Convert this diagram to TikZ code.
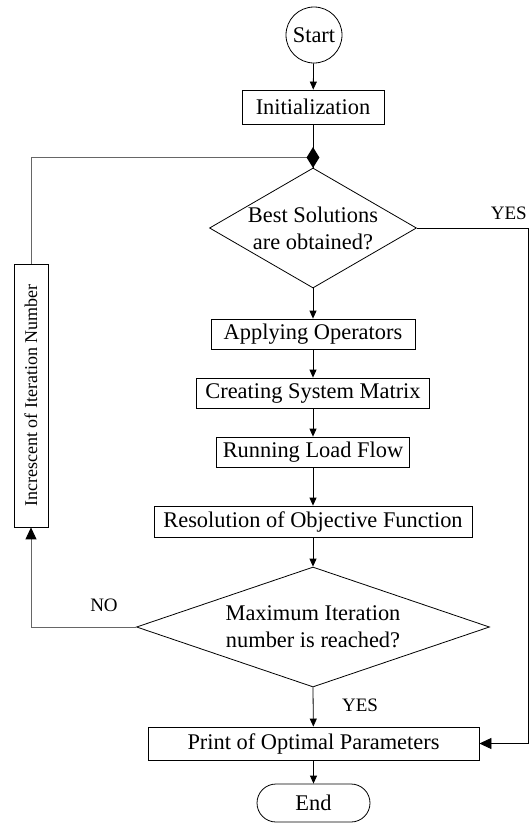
\documentclass[tikz,border=0pt]{standalone}
\usepackage{fontspec}
\setmainfont{Liberation Serif}
\usetikzlibrary{shapes.geometric,arrows.meta}
\begin{document}
\begin{tikzpicture}[x=1pt,y=-1pt,
  every node/.style={font=\fontsize{22.4}{27}\selectfont, inner sep=0pt},
  proc/.style={draw, line width=0.8pt, minimum height=30pt},
  decision/.style={draw, diamond, line width=0.8pt},
  flow/.style={line width=0.8pt, -{Triangle[length=8pt,width=7pt]}},
  bigflow/.style={line width=0.8pt, -{Triangle[length=12pt,width=11pt]}},
  loopline/.style={line width=0.9pt, draw=black!60},
  lbl/.style={font=\fontsize{19}{22}\selectfont}]
\useasboundingbox (0,0) rectangle (532,825);

\node[draw, circle, minimum size=56pt, line width=0.8pt] (start) at (314,35) {Start};
\node[proc, minimum width=142pt, minimum height=34pt] (init) at (313,107) {Initialization};
\node[decision, minimum width=207pt, minimum height=120pt,
  label={[align=center]center:Best Solutions\\are obtained?}] (d1) at (313,228) {};
\node[proc, minimum width=204pt] (apply) at (313,334) {Applying Operators};
\node[proc, minimum width=233pt] (create) at (313,393) {Creating System Matrix};
\node[proc, minimum width=193pt] (run) at (313,452) {Running Load Flow};
\node[proc, minimum width=318pt, minimum height=31pt] (res) at (313,521.5) {Resolution of Objective Function};
\node[decision, minimum width=353pt, minimum height=120pt,
  label={[align=center]center:Maximum Iteration\\number is reached?}] (d2) at (313,627) {};
\node[proc, minimum width=331pt, minimum height=33pt] (print) at (313.5,743.5) {Print of Optimal Parameters};
\node[draw, line width=0.8pt, rounded corners=19pt, minimum width=113pt, minimum height=38pt] (end) at (313.5,803) {End};
\node[draw, line width=0.8pt, rotate=90, minimum width=263pt, minimum height=34pt,
  font=\fontsize{18}{22}\selectfont] (incr) at (31,395.5) {Increscent of Iteration Number};

\coordinate (jc) at (313,157.5);
\coordinate (r1) at (528,228);
\coordinate (l1) at (31,627);
\coordinate (l2) at (31,157.5);

\draw[flow] (start) -- (init);
\draw[line width=0.8pt] (init) -- (d1.north);
\draw[flow] (d1.south) -- (apply);
\draw[flow] (apply) -- (create);
\draw[flow] (create) -- (run);
\draw[flow] (run) -- (res);
\draw[flow] (res) -- (d2.north);
\draw[flow] (d2.south) -- (print);
\draw[flow] (print) -- (end);
\draw[bigflow] (d1.east) -- (r1) |- (print.east);
\draw[loopline, -{Triangle[length=12pt,width=11pt,color=black]}] (d2.west) -- (l1) -- (incr.west);
\draw[loopline] (incr.east) -- (l2) -- (jc);

\node[diamond, fill=black, minimum width=13pt, minimum height=21pt] (junction) at (jc) {};

\node[lbl, anchor=base east] (yes1) at (527,219) {YES};
\node[lbl] (yes2) at (360,705) {YES};
\node[lbl] (no) at (104,605) {NO};
\end{tikzpicture}
\end{document}
